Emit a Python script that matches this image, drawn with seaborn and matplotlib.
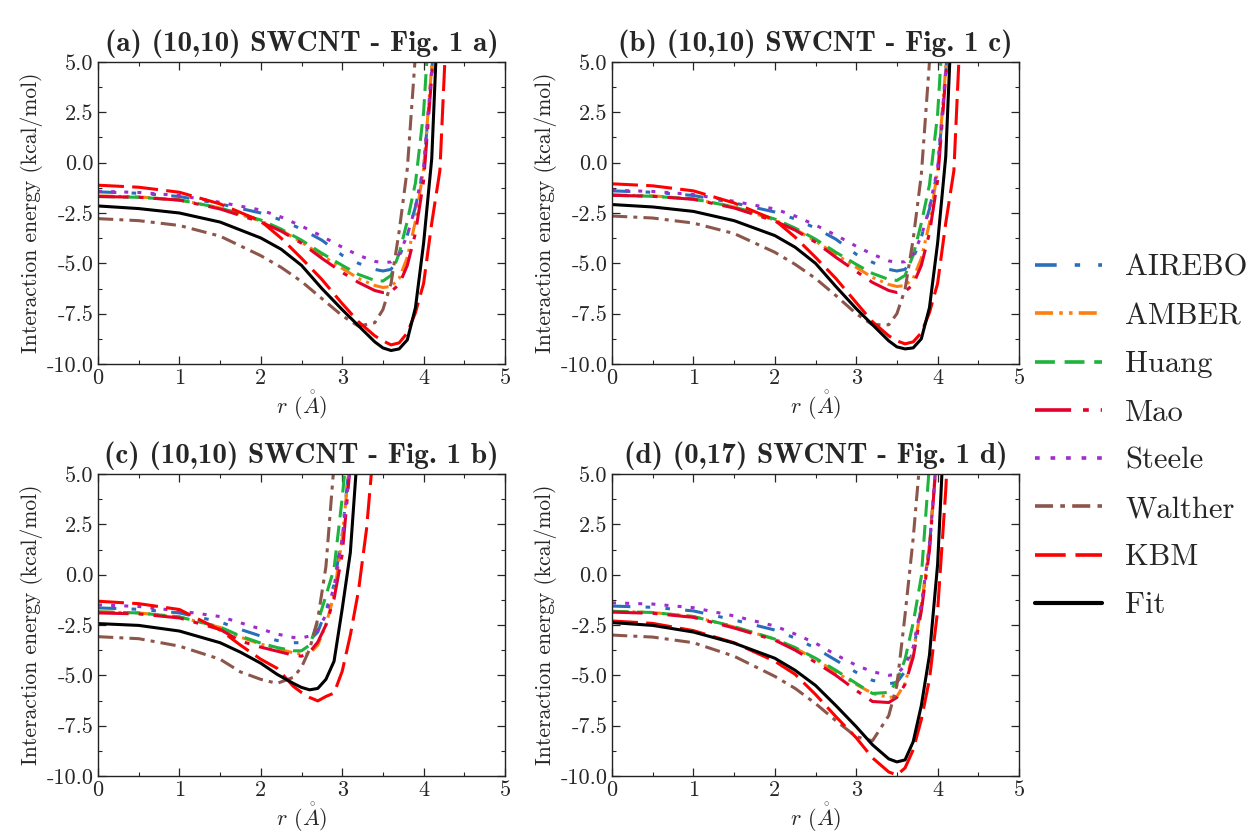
import numpy as np
import pandas as pd
import matplotlib
matplotlib.use('Agg')
import matplotlib.pyplot as plt
from matplotlib.lines import Line2D
from matplotlib.ticker import MultipleLocator, FormatStrFormatter
import seaborn as sns

sns.set_theme(style='ticks')
plt.rcParams['font.family'] = 'serif'
plt.rcParams['font.serif'] = ['cmr10', 'DejaVu Serif']
plt.rcParams['mathtext.fontset'] = 'cm'
plt.rcParams['axes.formatter.use_mathtext'] = True
plt.rcParams['axes.unicode_minus'] = True

MODELS = ['AIREBO', 'AMBER', 'Huang', 'Mao', 'Steele', 'Walther', 'KBM', 'Fit']
COLORS = {'AIREBO': '#2a6ebb', 'AMBER': '#ff7f0e', 'Huang': '#1db33c', 'Mao': '#e3002b',
          'Steele': '#a02ccc', 'Walther': '#8c564b', 'KBM': '#ff0000', 'Fit': '#000000'}
DASHES = {'AIREBO': (6, 5, 1.5, 5, 1.5, 5), 'AMBER': (5, 1.7, 1, 1.7, 1, 1.7),
          'Huang': (5.5, 2.7), 'Mao': (10, 3.3, 1.6, 3.3), 'Steele': (1.3, 3.0),
          'Walther': (5, 2, 1.3, 2), 'KBM': (8.5, 2.7), 'Fit': ''}

# distance grids (Angstrom)
r_grid = [0, 0.5, 1, 1.5, 2, 2.25, 2.5, 2.75, 3, 3.2, 3.4, 3.5, 3.6, 3.7, 3.8, 3.9, 4.0, 4.1, 4.2, 4.3]
r_grid_c = [0, 0.5, 1, 1.5, 1.75, 2, 2.2, 2.4, 2.5, 2.6, 2.7, 2.8, 2.9, 3.0, 3.1, 3.2, 3.3, 3.4]

# interaction energies (kcal/mol), each list follows its grid until the curve leaves the plot
panel_a = {
    'AIREBO': [-1.45, -1.52, -1.68, -2.05, -2.5, -2.85, -3.3, -3.85, -4.6, -5.0, -5.3, -5.38, -5.3, -4.7, -3.6, -2.2, -0.3, 4.5, 11],
    'AMBER': [-1.65, -1.7, -1.85, -2.25, -2.9, -3.35, -3.95, -4.6, -5.25, -5.75, -6.1, -6.2, -6.15, -5.75, -4.7, -2.9, -0.3, 4.8, 11],
    'Huang': [-1.68, -1.72, -1.85, -2.25, -2.85, -3.3, -3.85, -4.5, -5.1, -5.55, -5.85, -5.88, -5.6, -4.5, -2.9, -1.0, 2.5, 9],
    'Mao': [-1.68, -1.72, -1.86, -2.3, -2.95, -3.4, -4.0, -4.75, -5.45, -5.95, -6.35, -6.45, -6.4, -6.05, -5.1, -3.5, -0.9, 4.3, 10],
    'Steele': [-1.42, -1.48, -1.63, -1.97, -2.35, -2.7, -3.15, -3.65, -4.2, -4.6, -4.9, -4.97, -4.93, -4.55, -3.6, -2.2, -0.2, 4.6, 11],
    'Walther': [-2.78, -2.88, -3.12, -3.65, -4.62, -5.2, -5.9, -6.75, -7.6, -8.12, -7.95, -7.3, -6.0, -3.4, -0.3, 5.4, 12],
    'KBM': [-1.12, -1.22, -1.47, -2.05, -2.9, -3.75, -4.75, -5.8, -7.0, -7.9, -8.6, -8.85, -9.05, -8.95, -8.45, -7.45, -6.0, -3.0, -0.4, 8.5],
    'Fit': [-2.15, -2.28, -2.5, -2.95, -3.74, -4.3, -5.1, -6.25, -7.3, -8.1, -8.9, -9.2, -9.33, -9.25, -8.8, -7.2, -4.0, 0.2, 9.8],
}
panel_b = {
    'AIREBO': [-1.4, -1.47, -1.63, -2.0, -2.45, -2.8, -3.25, -3.8, -4.55, -4.95, -5.3, -5.38, -5.3, -4.75, -3.7, -2.3, -0.4, 4.4, 11],
    'AMBER': [-1.6, -1.65, -1.8, -2.2, -2.85, -3.3, -3.9, -4.55, -5.2, -5.7, -6.05, -6.15, -6.1, -5.75, -4.75, -3.0, -0.4, 4.7, 11],
    'Huang': [-1.62, -1.67, -1.8, -2.2, -2.8, -3.25, -3.8, -4.45, -5.05, -5.5, -5.8, -5.85, -5.6, -4.6, -3.0, -1.1, 2.4, 9],
    'Mao': [-1.62, -1.67, -1.82, -2.25, -2.9, -3.35, -3.95, -4.7, -5.4, -5.95, -6.35, -6.45, -6.4, -6.05, -5.1, -3.5, -0.9, 4.3, 10],
    'Steele': [-1.37, -1.43, -1.58, -1.92, -2.3, -2.65, -3.1, -3.6, -4.15, -4.55, -4.88, -4.95, -4.92, -4.55, -3.65, -2.25, -0.25, 4.5, 11],
    'Walther': [-2.65, -2.75, -3.0, -3.52, -4.45, -5.05, -5.75, -6.6, -7.5, -8.05, -8.05, -7.5, -6.3, -3.8, -0.6, 5.0, 12],
    'KBM': [-1.05, -1.15, -1.4, -2.0, -2.85, -3.7, -4.7, -5.75, -6.95, -7.9, -8.6, -8.85, -9.0, -8.9, -8.45, -7.45, -6.0, -3.0, -0.4, 8.5],
    'Fit': [-2.08, -2.2, -2.42, -2.88, -3.62, -4.2, -5.0, -6.15, -7.25, -8.05, -8.85, -9.15, -9.25, -9.2, -8.75, -7.2, -4.0, 0.3, 9.8],
}
panel_c = {
    'AIREBO': [-1.65, -1.72, -1.9, -2.35, -2.72, -3.05, -3.27, -3.38, -3.38, -3.25, -2.85, -1.8, -0.5, 2.0, 6.0],
    'AMBER': [-1.85, -1.9, -2.1, -2.62, -3.1, -3.45, -3.68, -3.88, -3.95, -3.92, -3.5, -2.5, -1.0, 1.8, 6.0],
    'Huang': [-1.85, -1.9, -2.1, -2.6, -3.05, -3.4, -3.62, -3.78, -3.78, -3.5, -2.35, -1.05, 0.3, 3.8, 8.0],
    'Mao': [-1.9, -1.95, -2.15, -2.72, -3.3, -3.6, -3.8, -4.0, -4.05, -3.85, -3.35, -2.5, -1.2, 1.0, 5.5],
    'Steele': [-1.5, -1.58, -1.8, -2.08, -2.39, -2.7, -2.95, -3.12, -3.14, -3.05, -2.75, -2.0, -0.6, 1.8, 5.5],
    'Walther': [-3.08, -3.18, -3.55, -4.2, -4.83, -5.2, -5.4, -5.1, -4.6, -3.7, -2.2, 0.4, 5.5],
    'KBM': [-1.32, -1.44, -1.73, -2.75, -3.5, -4.2, -4.65, -5.55, -5.85, -6.1, -6.27, -6.05, -5.88, -4.8, -3.0, -0.8, 2.3, 7.0],
    'Fit': [-2.43, -2.52, -2.8, -3.38, -3.85, -4.4, -4.95, -5.4, -5.6, -5.72, -5.65, -5.2, -4.3, -1.7, 1.1, 6.8],
}
panel_d = {
    'AIREBO': [-1.56, -1.62, -1.8, -2.25, -2.75, -3.15, -3.65, -4.25, -4.85, -5.25, -5.42, -5.35, -4.8, -3.8, -1.6, 1.4, 6.5],
    'AMBER': [-1.82, -1.88, -2.08, -2.6, -3.2, -3.65, -4.2, -4.85, -5.45, -5.9, -6.1, -6.05, -5.4, -3.9, -1.6, 1.5, 6.5],
    'Huang': [-1.82, -1.88, -2.08, -2.58, -3.2, -3.62, -4.15, -4.75, -5.4, -5.9, -5.85, -5.3, -4.2, -2.4, -0.1, 5.5],
    'Mao': [-1.86, -1.92, -2.12, -2.65, -3.25, -3.75, -4.35, -5.0, -5.75, -6.3, -6.35, -6.1, -5.45, -4.1, -1.8, 1.2, 6.5],
    'Steele': [-1.4, -1.46, -1.64, -2.05, -2.55, -2.95, -3.4, -3.98, -4.5, -4.82, -5.0, -4.95, -4.5, -3.6, -1.5, 1.4, 6.5],
    'Walther': [-3.0, -3.1, -3.38, -4.05, -5.05, -5.65, -6.4, -7.25, -8.05, -8.25, -7.0, -5.5, -2.0, 1.8, 6.5],
    'KBM': [-2.3, -2.42, -2.78, -3.38, -4.3, -4.95, -5.95, -7.05, -8.1, -9.1, -9.8, -9.95, -9.6, -8.7, -7.2, -5.2, -1.8, 4.2, 12],
    'Fit': [-2.38, -2.52, -2.85, -3.4, -4.15, -4.75, -5.5, -6.5, -7.55, -8.45, -9.15, -9.3, -9.2, -8.3, -6.5, -4.0, 0.5, 9],
}

titles = ['(a) (10,10) SWCNT - Fig. 1 a)', '(b) (10,10) SWCNT - Fig. 1 c)',
          '(c) (10,10) SWCNT - Fig. 1 b)', '(d) (0,17) SWCNT - Fig. 1 d)']
panels = [(panel_a, r_grid), (panel_b, r_grid), (panel_c, r_grid_c), (panel_d, r_grid)]


def to_long(panel, grid):
    rows = []
    for m in MODELS:
        for r, e in zip(grid, panel[m]):
            rows.append((m, r, e))
    return pd.DataFrame(rows, columns=['model', 'r', 'E'])


fig = plt.figure(figsize=(12.51, 8.33), dpi=100)
W, H = 1251, 833
boxes = [(98, 62), (612, 62), (98, 474), (612, 474)]
for k, ((panel, grid), (x0, y0)) in enumerate(zip(panels, boxes)):
    ax = fig.add_axes([x0 / W, 1 - (y0 + 302) / H, 407 / W, 302 / H])
    df = to_long(panel, grid)
    sns.lineplot(data=df, x='r', y='E', hue='model', style='model', hue_order=MODELS,
                 style_order=MODELS, palette=COLORS, dashes=DASHES, estimator=None,
                 sort=False, linewidth=2.2, legend=False, ax=ax)
    ax.set_xlim(0, 5)
    ax.set_ylim(-10, 5)
    ax.xaxis.set_major_locator(MultipleLocator(1))
    ax.xaxis.set_minor_locator(MultipleLocator(0.5))
    ax.yaxis.set_major_locator(MultipleLocator(2.5))
    ax.yaxis.set_minor_locator(MultipleLocator(1.25))
    ax.yaxis.set_major_formatter(FormatStrFormatter('%.1f'))
    ax.xaxis.set_major_formatter(FormatStrFormatter('%d'))
    ax.tick_params(which='both', direction='in', top=True, right=True, labelsize=16, pad=3)
    ax.tick_params(which='major', length=6, width=0.9)
    ax.tick_params(which='minor', length=3, width=0.8)
    for s in ax.spines.values():
        s.set_linewidth(1.0)
        s.set_color('#222222')
    ax.set_title(titles[k], fontfamily='cmb10', fontsize=21, pad=8)
    ax.set_xlabel(r'$r$ ($\mathring{A}$)', fontsize=16, labelpad=1)
    ax.set_ylabel('Interaction energy (kcal/mol)', fontsize=15.5, labelpad=3)

handles = []
for m in MODELS:
    if DASHES[m]:
        h = Line2D([], [], color=COLORS[m], linewidth=2.6, dashes=DASHES[m])
    else:
        h = Line2D([], [], color=COLORS[m], linewidth=3.0, linestyle='-')
    handles.append(h)
fig.legend(handles, MODELS, loc='center left', bbox_to_anchor=(1035 / W, 1 - 437 / H),
           frameon=False, fontsize=22, handlelength=2.2, handletextpad=0.75,
           labelspacing=0.68, borderpad=0, borderaxespad=0)

fig.savefig('out.png', dpi=100)
